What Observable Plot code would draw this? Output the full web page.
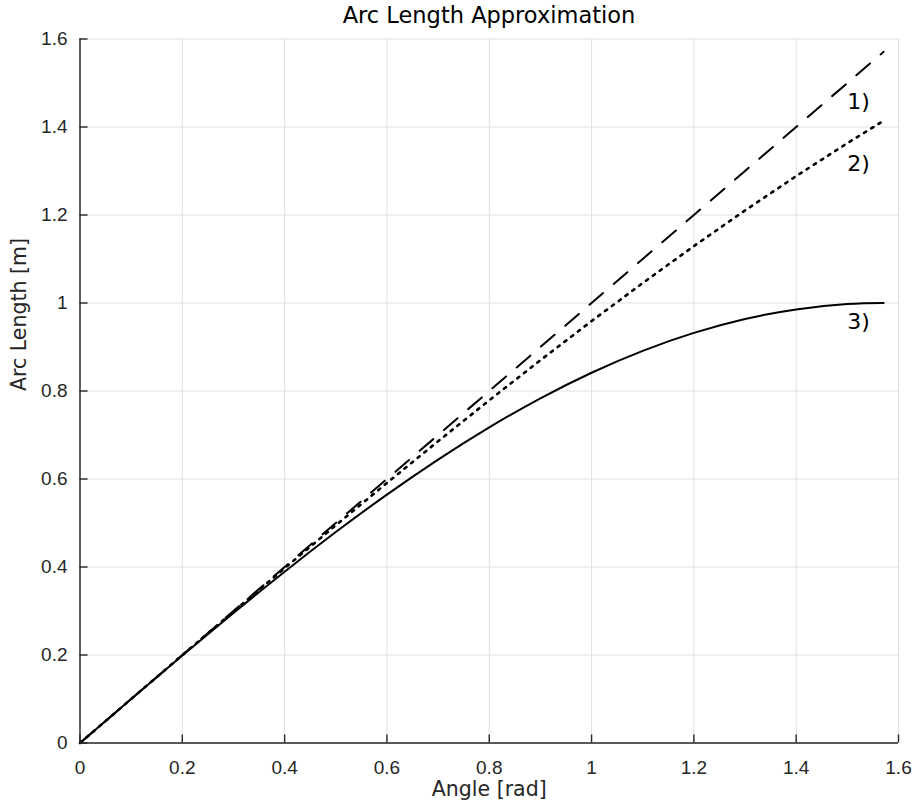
<!DOCTYPE html>
<html>
<head>
<meta charset="utf-8">
<script src="https://cdn.jsdelivr.net/npm/d3@7"></script>
<script src="https://cdn.jsdelivr.net/npm/@observablehq/plot@0.6"></script>
<style>
  body { margin: 0; background: #fff; }
  #title {
    position: relative;
    z-index: 1;
    height: 20px;
    overflow: visible;
    font: 22.5px/30px "DejaVu Sans", sans-serif;
    color: #000;
    padding-left: 66px;
    text-align: center;
    white-space: nowrap;
  }
</style>
</head>
<body>
<div id="title">Arc Length Approximation</div>
<div id="chart"></div>
<script>
// Angle values [rad]
const angle = [0, 0.1, 0.2, 0.3, 0.4, 0.5, 0.6, 0.7, 0.8, 0.9, 1.0, 1.1, 1.2, 1.3, 1.4, 1.5, 1.5708];
// 1) arc length (dashed)
const arcLen = [0, 0.1, 0.2, 0.3, 0.4, 0.5, 0.6, 0.7, 0.8, 0.9, 1.0, 1.1, 1.2, 1.3, 1.4, 1.5, 1.5708];
// 2) chord length (dotted)
const chordLen = [0, 0.09996, 0.19967, 0.29888, 0.39734, 0.49481, 0.59104, 0.68580, 0.77884, 0.86993, 0.95885, 1.04537, 1.12928, 1.21037, 1.28844, 1.36328, 1.41421];
// 3) sine (solid)
const sineLen = [0, 0.0998, 0.1987, 0.2955, 0.3894, 0.4794, 0.5646, 0.6442, 0.7174, 0.7833, 0.8415, 0.8912, 0.9320, 0.9636, 0.9854, 0.9975, 1.0000];

// Tick values
const xTicks = [0, 0.2, 0.4, 0.6, 0.8, 1, 1.2, 1.4, 1.6];
const yTicks = [0, 0.2, 0.4, 0.6, 0.8, 1, 1.2, 1.4, 1.6];
const xTickLabels = ["0", "0.2", "0.4", "0.6", "0.8", "1", "1.2", "1.4", "1.6"];
const yTickLabels = ["0", "0.2", "0.4", "0.6", "0.8", "1", "1.2", "1.4", "1.6"];

// Curve annotations
const noteText = ["1)", "2)", "3)"];
const noteX = [1.5, 1.5, 1.5];
const noteY = [1.44, 1.30, 0.94];

const data = angle.map((a, i) => ({angle: a, arc: arcLen[i], chord: chordLen[i], sine: sineLen[i]}));
const notes = noteText.map((t, i) => ({t, x: noteX[i], y: noteY[i]}));

const W = 912, H = 783;
const mL = 79.5, mR = 14, mT = 18.5, mB = 60.5;
const innerW = W - mL - mR, innerH = H - mT - mB;
const axisColor = "#262626";
const gridColor = "#dfdfdf";

const chart = Plot.plot({
  width: W,
  height: H,
  marginLeft: mL,
  marginRight: mR,
  marginTop: mT,
  marginBottom: mB,
  style: {fontFamily: "'Liberation Sans', Arial, sans-serif", fontSize: "19px", color: axisColor, background: "transparent"},
  x: {domain: [0, 1.6], label: null},
  y: {domain: [0, 1.6], label: null},
  marks: [
    Plot.gridX(xTicks, {stroke: gridColor, strokeOpacity: 1, strokeWidth: 1}),
    Plot.gridY(yTicks, {stroke: gridColor, strokeOpacity: 1, strokeWidth: 1}),
    Plot.line(data, {x: "angle", y: "arc", stroke: "#000", strokeWidth: 2, strokeDasharray: "18,14"}),
    Plot.line(data, {x: "angle", y: "chord", stroke: "#000", strokeWidth: 2.6, strokeDasharray: "2.5,6"}),
    Plot.line(data, {x: "angle", y: "sine", stroke: "#000", strokeWidth: 2, curve: "natural"}),
    // axis lines
    Plot.ruleY([yTicks[0]], {stroke: axisColor, strokeWidth: 1.4}),
    Plot.ruleX([xTicks[0]], {stroke: axisColor, strokeWidth: 1.4}),
    // inward ticks
    Plot.tickX(xTicks, {x: d => d, stroke: axisColor, strokeWidth: 1.4, insetTop: innerH - 8}),
    Plot.tickY(yTicks, {y: d => d, stroke: axisColor, strokeWidth: 1.4, insetRight: innerW - 8}),
    // tick labels
    Plot.axisX({ticks: xTicks, tickSize: 0, tickPadding: 17, tickFormat: d => xTickLabels[xTicks.indexOf(d)], label: null, fill: axisColor}),
    Plot.axisY({ticks: yTicks, tickSize: 0, tickPadding: 12.5, tickFormat: d => yTickLabels[yTicks.indexOf(d)], label: null, fill: axisColor}),
    // axis titles
    Plot.text(["Angle [rad]"], {frameAnchor: "bottom", dy: 52.5, lineAnchor: "bottom", fontFamily: "DejaVu Sans", fontSize: 20.5, fill: axisColor}),
    Plot.text(["Arc Length [m]"], {frameAnchor: "left", dx: -54, rotate: -90, lineAnchor: "bottom", fontFamily: "DejaVu Sans", fontSize: 20.5, fill: axisColor}),
    // annotations
    Plot.text(notes, {x: "x", y: "y", text: "t", textAnchor: "start", lineAnchor: "bottom", fontFamily: "DejaVu Sans", fontSize: 22, fill: "#000"})
  ]
});
document.getElementById("chart").appendChild(chart);
</script>
</body>
</html>
